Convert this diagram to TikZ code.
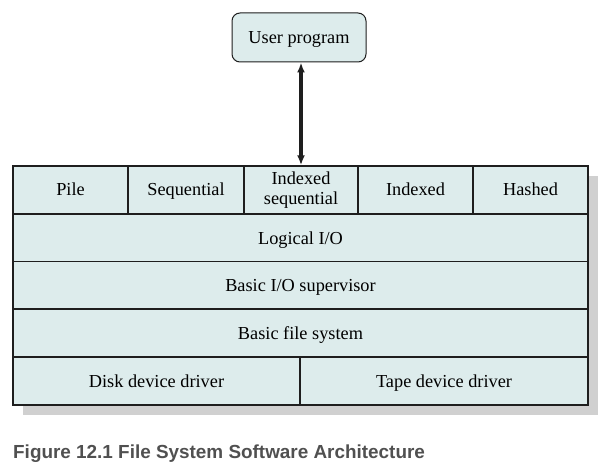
\documentclass[tikz,border=0pt]{standalone}
\usepackage{fontspec}
\setmainfont{Liberation Serif}
\newfontfamily\capfont{Liberation Sans}
\usetikzlibrary{arrows.meta}
\definecolor{cellfill}{HTML}{DDECEC}
\definecolor{shadowgrey}{HTML}{D0D0D0}
\definecolor{linedark}{HTML}{1E1E1E}
\definecolor{capgrey}{HTML}{505050}
\begin{document}
\begin{tikzpicture}[x=1pt,y=-1pt,
  cell/.style={draw=linedark, line width=1.4pt, fill=cellfill, inner sep=0pt,
    minimum height=48pt, font=\fontsize{18.3}{20}\selectfont, align=center,
    text height=16pt, text depth=4pt},
  topbox/.style={draw=linedark, line width=1pt, fill=cellfill, rounded corners=8pt,
    minimum width=134pt, minimum height=49pt, inner sep=0pt, font=\fontsize{18.3}{20}\selectfont,
    text height=16pt, text depth=4pt},
  link/.style={line width=3.4pt, linedark, {Latex[length=10pt,width=8pt]}-{Latex[length=10pt,width=8pt]}}]
\useasboundingbox (0,0) rectangle (608,476);
\fill[shadowgrey] (23,176) rectangle (598,415);
\node[topbox] (user) at (299,37.5) {User program};
\node[cell, minimum width=575pt] (logical) at (300.5,238) {Logical I/O};
\node[cell, minimum width=575pt] (supervisor) at (300.5,285.5) {Basic I/O supervisor};
\node[cell, minimum width=575pt] (filesys) at (300.5,333) {Basic file system};
\node[cell, minimum width=287pt] (disk) at (156.5,381) {Disk device driver};
\node[cell, minimum width=288pt] (tape) at (444,381) {Tape device driver};
\node[cell, minimum width=115pt] (pile) at (70.5,190) {Pile};
\node[cell, minimum width=116pt] (seq) at (186,190) {Sequential};
\node[cell, minimum width=114pt, font=\fontsize{18.3}{19.5}\selectfont, text height=, text depth=] (idxseq) at (301,190) {Indexed\\sequential};
\node[cell, minimum width=115pt] (idx) at (415.5,190) {Indexed};
\node[cell, minimum width=115pt] (hash) at (530.5,190) {Hashed};
\draw[link] (user.south -| idxseq.north) -- (idxseq.north);
\node[anchor=base west, inner sep=0pt, text=capgrey, font=\capfont\bfseries\fontsize{18.9}{21}\selectfont] (caption) at (13,458) {Figure 12.1 File System Software Architecture};
\end{tikzpicture}
\end{document}
